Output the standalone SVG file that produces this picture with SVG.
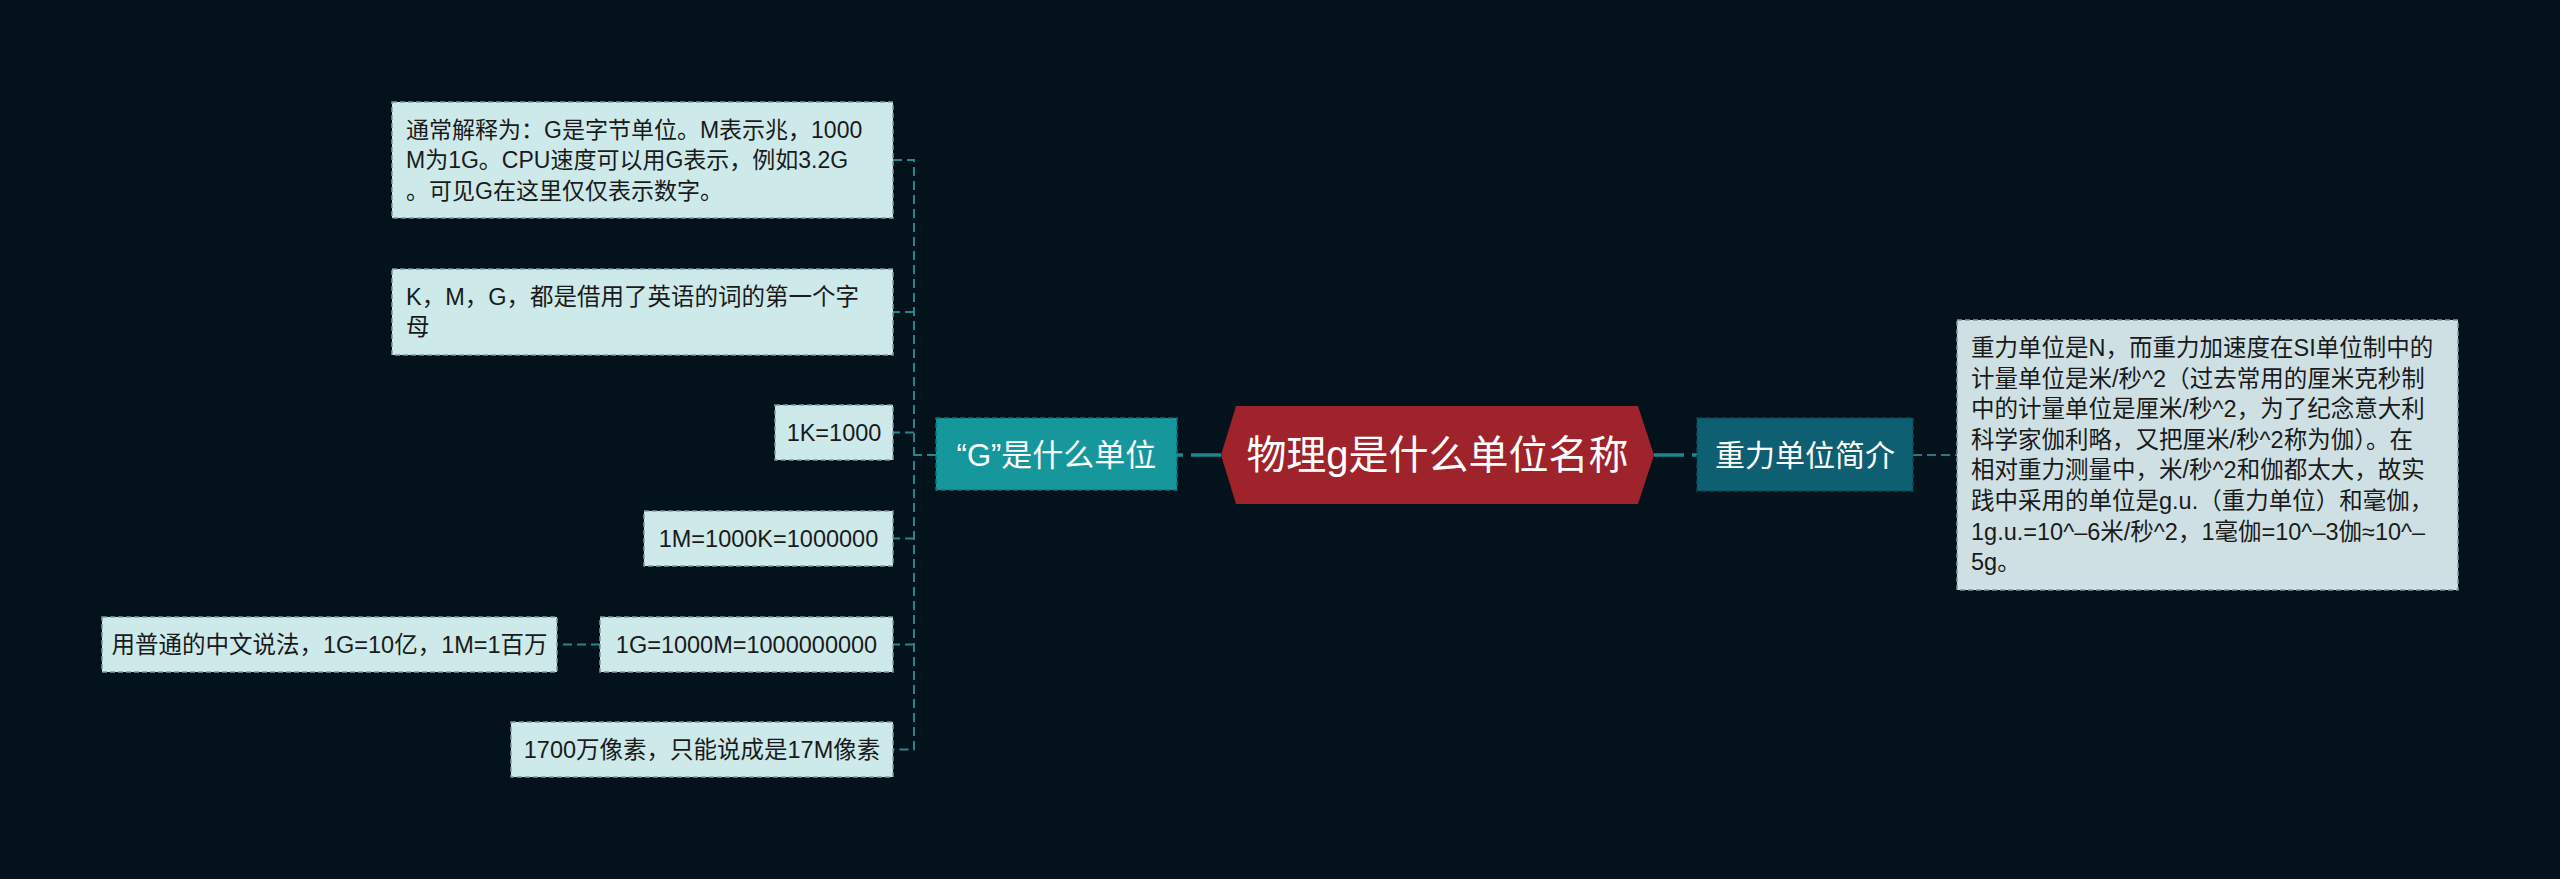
<svg xmlns="http://www.w3.org/2000/svg" width="2560" height="879" viewBox="0 0 2560 879">
<style>
.leaf{fill:#cde9ea;stroke:#7d9a9e;stroke-width:1.5;stroke-dasharray:5 3}
.leafR{fill:#cfe0e4;stroke:#7d9a9e;stroke-width:1.5;stroke-dasharray:5 3}
.lt{font-family:"Liberation Sans","Noto Sans CJK SC",sans-serif;font-size:23.5px;fill:#1a1a1a}
.sm{font-size:23px}
.nt{font-family:"Liberation Sans","Noto Sans CJK SC",sans-serif;font-size:30px;fill:#ffffff;text-anchor:middle}
.mid{text-anchor:middle}
.con{fill:none;stroke:#23878c;stroke-width:2;stroke-dasharray:9 5}
.conR{fill:none;stroke:#2f7682;stroke-width:2;stroke-dasharray:9 5}
.main{fill:none;stroke:#1d8791;stroke-width:3.5;stroke-dasharray:30 8}
</style>
<rect width="2560" height="879" fill="#03121b"/>
<g id="connectors">
<path class="con" d="M893 160 H914 V749.5 H893"/>
<path class="con" d="M914 312 H893"/>
<path class="con" d="M914 432.5 H893"/>
<path class="con" d="M914 538.5 H893"/>
<path class="con" d="M914 644.5 H893"/>
<path class="con" d="M936 455 H914"/>
<path class="con" d="M600 644.5 H557"/>
<path class="main" d="M1221 455 H1177"/>
<path class="main" d="M1654 455 H1697"/>
<path class="conR" d="M1913 455 H1957"/>
</g>
<g id="root">
<polygon points="1221,455 1236,406 1638,406 1654,455 1638,504 1236,504" fill="#9f232a"/>
<text class="nt" x="1437.5" y="469" style="font-size:40px">物理g是什么单位名称</text>
</g>
<g id="node-g">
<rect x="936" y="418" width="241" height="72" fill="#15979b" stroke="#0d7378" stroke-width="1.5" stroke-dasharray="5 3"/>
<text class="nt" x="1056.5" y="466" style="font-size:31px">“G”是什么单位</text>
</g>
<g id="node-gravity">
<rect x="1697" y="418" width="216" height="73" fill="#0e5f71" stroke="#0a4a58" stroke-width="1.5" stroke-dasharray="5 3"/>
<text class="nt" x="1805" y="465.5">重力单位简介</text>
</g>
<g id="leaf-1">
<rect class="leaf" x="392" y="102" width="501" height="116"/>
<text class="lt sm" x="406" y="137.5">通常解释为：G是字节单位。M表示兆，1000</text>
<text class="lt sm" x="406" y="168">M为1G。CPU速度可以用G表示，例如3.2G</text>
<text class="lt sm" x="406" y="198.5">。可见G在这里仅仅表示数字。</text>
</g>
<g id="leaf-2">
<rect class="leaf" x="392" y="269" width="501" height="86"/>
<text class="lt" x="406" y="305">K，M，G，都是借用了英语的词的第一个字</text>
<text class="lt" x="406" y="335">母</text>
</g>
<g id="leaf-3">
<rect class="leaf" x="775" y="405" width="118" height="55"/>
<text class="lt mid" x="834" y="440.5">1K=1000</text>
</g>
<g id="leaf-4">
<rect class="leaf" x="644" y="511" width="249" height="55"/>
<text class="lt mid" x="768.5" y="546.5">1M=1000K=1000000</text>
</g>
<g id="leaf-5">
<rect class="leaf" x="600" y="617" width="293" height="55"/>
<text class="lt mid" x="746.5" y="652.5">1G=1000M=1000000000</text>
</g>
<g id="leaf-5a">
<rect class="leaf" x="102" y="617" width="455" height="55"/>
<text class="lt mid" x="329.5" y="652.5">用普通的中文说法，1G=10亿，1M=1百万</text>
</g>
<g id="leaf-6">
<rect class="leaf" x="511" y="722" width="382" height="55"/>
<text class="lt mid" x="702" y="757.5">1700万像素，只能说成是17M像素</text>
</g>
<g id="leaf-gravity">
<rect class="leafR" x="1957" y="320" width="501" height="270"/>
<text class="lt" x="1971" y="356">重力单位是N，而重力加速度在SI单位制中的</text>
<text class="lt" x="1971" y="386.6">计量单位是米/秒^2（过去常用的厘米克秒制</text>
<text class="lt" x="1971" y="417.2">中的计量单位是厘米/秒^2，为了纪念意大利</text>
<text class="lt" x="1971" y="447.8">科学家伽利略，又把厘米/秒^2称为伽）。在</text>
<text class="lt" x="1971" y="478.4">相对重力测量中，米/秒^2和伽都太大，故实</text>
<text class="lt" x="1971" y="509">践中采用的单位是g.u.（重力单位）和毫伽，</text>
<text class="lt" x="1971" y="539.6">1g.u.=10^–6米/秒^2，1毫伽=10^–3伽≈10^–</text>
<text class="lt" x="1971" y="570.2">5g。</text>
</g>
</svg>
